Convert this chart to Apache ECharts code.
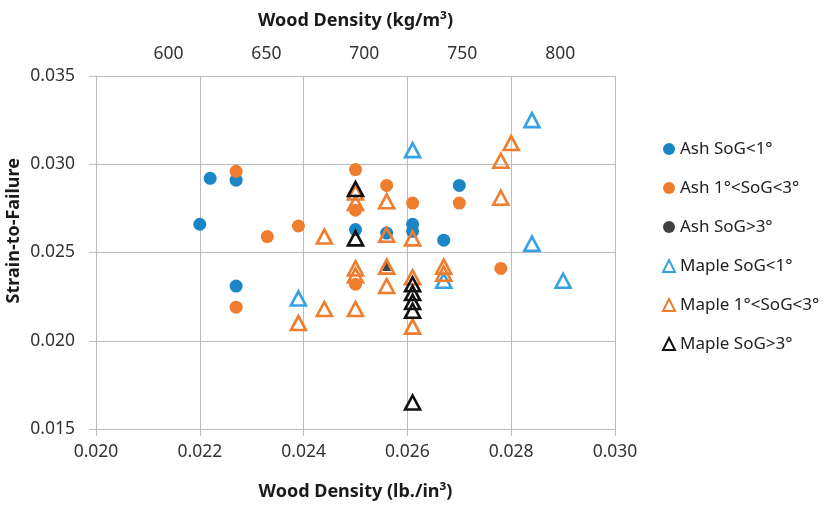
<!DOCTYPE html>
<html><head><meta charset="utf-8">
<script src="https://cdn.jsdelivr.net/npm/echarts@6/dist/echarts.min.js"></script>
<style>html,body{margin:0;padding:0;background:#fff}#c{width:823px;height:506px}</style>
</head><body><div id="c"></div><script>
// Wood density (lb./in^3), strain-to-failure
const ashSoGlt1 = [[0.0220,0.0266],[0.0222,0.0292],[0.0227,0.0291],[0.0227,0.0231],[0.0250,0.0263],[0.0256,0.0261],[0.0261,0.0266],[0.0261,0.0262],[0.0267,0.0257],[0.0270,0.0288]];
const ashSoG1to3 = [[0.0227,0.0296],[0.0227,0.0219],[0.0233,0.0259],[0.0239,0.0265],[0.0250,0.0297],[0.0250,0.0274],[0.0250,0.0232],[0.0256,0.0288],[0.0261,0.0278],[0.0270,0.0278],[0.0278,0.0241]];
const ashSoGgt3 = [[0.0256,0.0242]];
const mapleSoGlt1 = [[0.0239,0.0224],[0.0261,0.0308],[0.0284,0.0325],[0.0284,0.0255],[0.0290,0.0234],[0.0267,0.0234]];
const mapleSoG1to3 = [[0.0239,0.0210],[0.0244,0.0259],[0.0244,0.0218],[0.0250,0.0284],[0.0250,0.0278],[0.0250,0.0241],[0.0250,0.0237],[0.0250,0.0218],[0.0256,0.0279],[0.0256,0.0260],[0.0256,0.0242],[0.0256,0.0231],[0.0261,0.0258],[0.0261,0.0236],[0.0261,0.0208],[0.0267,0.0242],[0.0267,0.0238],[0.0278,0.0302],[0.0278,0.0281],[0.0280,0.0312]];
const mapleSoGgt3 = [[0.0250,0.0286],[0.0250,0.0258],[0.0261,0.0232],[0.0261,0.0227],[0.0261,0.0222],[0.0261,0.0217],[0.0261,0.0165]];
const topTickLabels = [600,650,700,750,800];
const seriesNames = ['Ash SoG<1°','Ash 1°<SoG<3°','Ash SoG>3°','Maple SoG<1°','Maple 1°<SoG<3°','Maple SoG>3°'];

const gray = '#bcbcbc';
const font = 'Noto Sans';
const tickFont = {fontFamily:font, fontSize:17.5, color:'#333'};
const titleFont = {fontFamily:font, fontSize:18, fontWeight:'bold', color:'#1a1a1a'};
const C_BLUE='#1b86c5', C_ORANGE='#ef7d2e', C_LBLUE='#36a2e3', C_BLACK='#111';

function circ(name, data, color){
  return {name, type:'scatter', data, symbol:'circle', symbolSize:13, xAxisIndex:0,
    itemStyle:{color, opacity:1}};
}
function tri(name, data, color){
  return {name, type:'scatter', data, symbol:'triangle', symbolSize:[15,14], xAxisIndex:0,
    itemStyle:{color:'rgba(0,0,0,0)', borderColor:color, borderWidth:2.6, opacity:1}};
}
const chart = echarts.init(document.getElementById('c'));
chart.setOption({
  animation:false,
  grid:{left:96, right:208, top:76, bottom:74},
  xAxis:[
    {type:'value', position:'bottom', min:0.020, max:0.030, interval:0.002,
     name:'Wood Density (lb./in³)', nameLocation:'middle', nameGap:54, nameTextStyle:titleFont,
     axisLine:{show:true, lineStyle:{color:gray}},
     axisTick:{show:true, length:7, lineStyle:{color:gray}},
     axisLabel:Object.assign({formatter:v=>v.toFixed(3), margin:14}, tickFont),
     splitLine:{show:true, lineStyle:{color:gray}}},
    {type:'value', position:'top', min:563, max:828,
     name:'Wood Density (kg/m³)', nameLocation:'middle', nameGap:46, nameTextStyle:titleFont,
     axisLine:{show:false}, axisTick:{show:false}, splitLine:{show:false},
     axisLabel:Object.assign({customValues:topTickLabels, margin:13}, tickFont)}
  ],
  yAxis:{type:'value', min:0.015, max:0.035, interval:0.005,
     axisLine:{show:true, lineStyle:{color:gray}},
     axisTick:{show:true, length:7, lineStyle:{color:gray}},
     axisLabel:Object.assign({formatter:v=>v.toFixed(3), margin:21}, tickFont),
     splitLine:{show:true, lineStyle:{color:gray}}},
  legend:{orient:'vertical', left:657, top:134, itemWidth:12, itemHeight:12, itemGap:19,
     textStyle:{fontFamily:font, fontSize:17, color:'#222', lineHeight:20},
     data:seriesNames.map((n,i)=>({name:n, icon: i<3 ? 'circle' : 'triangle'}))},
  graphic:[{type:'text', left:5, top:158, rotation:Math.PI/2,
     style:{text:'Strain-to-Failure', font:'bold 18px "Noto Sans"', fill:'#1a1a1a'}}],
  series:[
    circ(seriesNames[0], ashSoGlt1, C_BLUE),
    circ(seriesNames[1], ashSoG1to3, C_ORANGE),
    {name:seriesNames[2], type:'scatter', data:ashSoGgt3, symbol:'triangle', symbolSize:9,
     itemStyle:{color:C_BLACK}},
    tri(seriesNames[3], mapleSoGlt1, C_LBLUE),
    tri(seriesNames[4], mapleSoG1to3, C_ORANGE),
    tri(seriesNames[5], mapleSoGgt3, C_BLACK)
  ]
});
</script></body></html>
